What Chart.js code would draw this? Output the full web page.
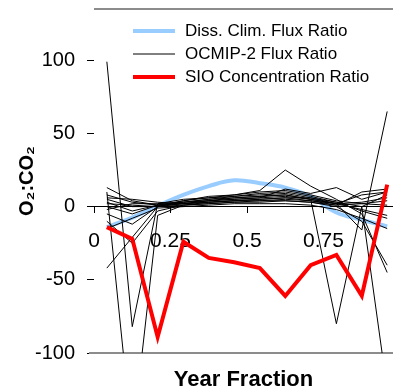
<!DOCTYPE html>
<html>
<head>
<meta charset="utf-8">
<script src="https://cdn.jsdelivr.net/npm/chart.js@4.4.0/dist/chart.umd.min.js"></script>
<style>
  html, body { margin: 0; padding: 0; background: #fff; overflow: hidden; }
  #wrap { width: 393px; height: 391px; }
</style>
</head>
<body>
<div id="wrap"><canvas id="grafico"></canvas></div>
<script>
// fração do ano (meio de cada mês)
const meses = [0.042, 0.125, 0.208, 0.292, 0.375, 0.458, 0.542, 0.625, 0.708, 0.792, 0.875, 0.958];

const dissClim = [-14, -7.5, 0.5, 8, 14, 18, 16, 13, 7, -4, -9, -13.5];
const sioConc = [-14, -22, -89, -24, -35, -38, -42, -61, -40, -33, -61, 15];

// modelos OCMIP-2
const ocmipA = [99, -82, 2, 3, 4, 5, 6, 7, 5, 2, 3, 6];
const ocmipB = [10, -160, -6, 1, 3, 4, 5, 6, 4, 1, 2, 4];
const ocmipC = [-42, -21, 0, 2, 4, 6, 7, 8, 5, 2, -2, -6];
const ocmipD = [13, 4, 1, 3, 5, 7, 9, 10, 7, 3, 0, -125];
const ocmipE = [0, -5, 1, 2, 3, 4, 5, 6, 6, 2, -16, 65];
const ocmipF = [5, 0, 0, 4, 6, 8, 11, 25, 14, 5, -5, -45];
const ocmipG = [-5, -12, 0, 3, 5, 6, 7, 8, 5, -80, 0, 8];
const ocmipH = [8, 3, 1, 2, 4, 5, 6, 12, 9, 13, 5, 10];
const ocmipI = [-10, -25, -3, 1, 2, 3, 4, 4, 3, 0, -10, -40];
const ocmipJ = [2, 1, 0, 1, 2, 3, 3, 4, 3, 1, 10, 12];
const ocmipK = [-15, -8, -1, 0, 1, 2, 2, 2, 1, -2, -8, -15];
const ocmipL = [3, -3, 1, 4, 7, 8, 10, 11, 8, 4, 2, 1];
const ocmipM = [-2, 2, 2, 5, 6, 7, 8, 9, 6, 3, -3, -8];
const ocmipN = [6, 5, 3, 2, 3, 4, 4, 5, 4, 2, 8, 10];
const modelos = [ocmipA, ocmipB, ocmipC, ocmipD, ocmipE, ocmipF, ocmipG,
                 ocmipH, ocmipI, ocmipJ, ocmipK, ocmipL, ocmipM, ocmipN];

const xTicks = [0, 0.25, 0.5, 0.75];
const yTicks = [-100, -50, 0, 50, 100];

const fonte = "'Liberation Sans', Arial, 'DejaVu Sans', sans-serif";

const pontos = vals => vals.map((v, i) => ({ x: meses[i], y: v }));

const datasets = [{
  label: "Diss. Clim. Flux Ratio",
  data: pontos(dissClim),
  borderColor: '#99ccff',
  borderWidth: 4,
  tension: 0.4,
  pointRadius: 0,
  order: 3
}];

modelos.forEach((m, i) => {
  datasets.push({
    label: i === 0 ? "OCMIP-2 Flux Ratio" : "",
    data: pontos(m),
    borderColor: '#000',
    borderWidth: 1,
    tension: 0,
    pointRadius: 0,
    order: 2
  });
});

datasets.push({
  label: "SIO Concentration Ratio",
  data: pontos(sioConc),
  borderColor: '#ff0000',
  borderWidth: 4,
  tension: 0,
  pointRadius: 0,
  order: 1
});

// bordas de cima e de baixo da área do gráfico
const bordas = {
  id: 'bordas',
  beforeDatasetsDraw(chart) {
    const { ctx, chartArea: a } = chart;
    ctx.save();
    ctx.strokeStyle = '#8c8c8c';
    ctx.lineWidth = 2;
    ctx.beginPath();
    ctx.moveTo(a.left, a.top);
    ctx.lineTo(a.right, a.top);
    ctx.moveTo(a.left - 5, a.bottom);
    ctx.lineTo(a.right, a.bottom);
    ctx.stroke();
    ctx.restore();
  }
};

// legenda dentro da área
const legenda = {
  id: 'legenda',
  afterDraw(chart) {
    const { ctx } = chart;
    const itens = chart.data.datasets.filter(d => d.label);
    ctx.save();
    ctx.font = "17px " + fonte;
    ctx.textBaseline = 'middle';
    itens.forEach((d, i) => {
      const y = 31 + i * 23;
      ctx.strokeStyle = d.borderColor;
      ctx.lineWidth = d.borderWidth;
      ctx.beginPath();
      ctx.moveTo(133, y);
      ctx.lineTo(175, y);
      ctx.stroke();
      ctx.fillStyle = '#000';
      ctx.fillText(d.label, 185, y);
    });
    ctx.restore();
  }
};

const semPadding = s => {
  s.paddingTop = 0; s.paddingBottom = 0;
  s.paddingLeft = 0; s.paddingRight = 0;
};

new Chart(document.getElementById('grafico'), {
  type: 'line',
  data: { datasets },
  plugins: [bordas, legenda],
  options: {
    responsive: true,
    maintainAspectRatio: false,
    animation: false,
    devicePixelRatio: 1,
    layout: { padding: { top: 9, left: 0, right: 0, bottom: 0 } },
    plugins: { legend: { display: false }, tooltip: { enabled: false } },
    scales: {
      x: {
        type: 'linear',
        min: 0,
        max: 0.977,
        position: { y: 0 },
        border: { display: true, color: '#000', width: 1 },
        grid: { drawOnChartArea: false, drawTicks: true, tickLength: 6, color: '#000' },
        ticks: {
          font: { size: 21, family: fonte }, color: '#000', padding: 16,
          maxRotation: 0, autoSkip: false,
          callback: v => String(v)
        },
        afterBuildTicks: s => { s.ticks = xTicks.map(v => ({ value: v })); },
        afterFit: s => { s.height = 0; semPadding(s); }
      },
      x2: {
        type: 'linear',
        position: 'bottom',
        min: 0,
        max: 0.977,
        ticks: { display: false },
        grid: { display: false, drawTicks: false },
        border: { display: false },
        title: {
          display: true,
          text: 'Year Fraction',
          color: '#000',
          font: { size: 22, weight: 'bold', family: fonte, lineHeight: 1 },
          padding: { top: 0, bottom: 0 }
        },
        afterFit: s => { s.height = 38; semPadding(s); }
      },
      y: {
        type: 'linear',
        min: -100,
        max: 135,
        position: 'left',
        border: { display: false },
        grid: { drawOnChartArea: false, drawTicks: true, tickLength: 7, color: '#000' },
        ticks: { font: { size: 20, family: fonte }, color: '#000', padding: 12 },
        afterBuildTicks: s => { s.ticks = yTicks.map(v => ({ value: v })); },
        title: {
          display: true,
          text: 'O₂:CO₂',
          color: '#000',
          font: { size: 20, weight: 'bold', family: fonte, lineHeight: 1 },
          padding: { top: 17, bottom: 0 }
        },
        afterFit: s => { s.width = 94; semPadding(s); }
      }
    }
  }
});
</script>
</body>
</html>
